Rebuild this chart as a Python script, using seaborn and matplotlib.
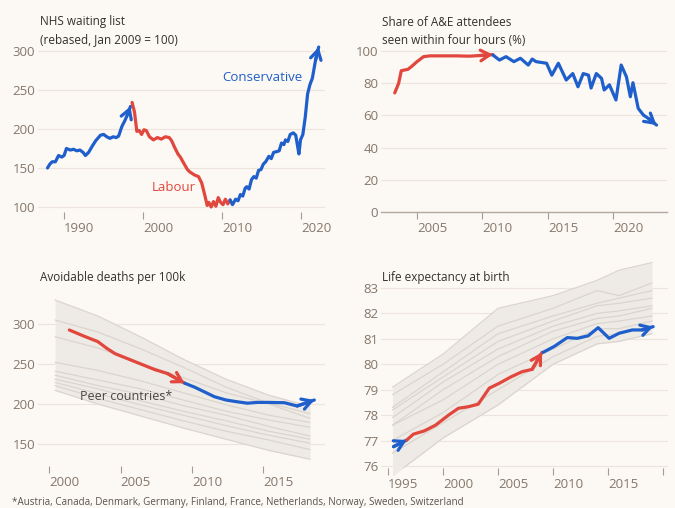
import numpy as np
import pandas as pd
import matplotlib
matplotlib.use("Agg")
import matplotlib.pyplot as plt
import seaborn as sns

# ---------------- data ----------------
# NHS waiting list (rebased, Jan 2009 = 100)
nhs_con1_year = [1987.9, 1988.2, 1988.5, 1988.9, 1989.3, 1989.7, 1990.0, 1990.3, 1990.8, 1991.2, 1991.6,
                 1992.0, 1992.4, 1992.7, 1993.1, 1993.5, 1994.0, 1994.6, 1995.0, 1995.4, 1995.8, 1996.2,
                 1996.6, 1996.9, 1997.3, 1997.7, 1998.0, 1998.4]
nhs_con1_val = [150, 155, 158, 158, 166, 164, 166, 175, 173, 174, 172,
                173, 170, 166, 170, 177, 185, 192, 193, 190, 188, 190,
                189, 191, 203, 211, 218, 229]
nhs_lab_year = [1998.6, 1998.9, 1999.2, 1999.5, 1999.8, 2000.1, 2000.4, 2000.8, 2001.3, 2001.8, 2002.3,
                2002.8, 2003.3, 2003.6, 2004.0, 2004.4, 2004.7, 2005.2, 2005.6, 2005.9, 2006.5, 2007.0,
                2007.4, 2007.8, 2008.1, 2008.3, 2008.6, 2008.9, 2009.2, 2009.5, 2009.8, 2010.1, 2010.4,
                2010.7, 2011.0]
nhs_lab_val = [234, 222, 197, 198, 193, 199, 198, 190, 186, 189, 187,
               190, 189, 185, 176, 168, 164, 155, 148, 145, 141, 139,
               131, 115, 102, 106, 100, 107, 101, 112, 106, 103, 110,
               104, 109]
nhs_con2_year = [2011.0, 2011.3, 2011.7, 2012.0, 2012.3, 2012.6, 2012.9, 2013.1, 2013.4, 2013.7, 2014.0,
                 2014.3, 2014.6, 2014.9, 2015.2, 2015.5, 2015.9, 2016.2, 2016.5, 2016.9, 2017.2, 2017.5,
                 2017.8, 2018.0, 2018.3, 2018.6, 2019.0, 2019.3, 2019.5, 2019.7, 2019.9, 2020.2, 2020.5,
                 2020.8, 2021.1, 2021.4, 2021.8, 2022.2]
nhs_con2_val = [109, 103, 110, 108, 116, 114, 124, 126, 123, 135, 139,
                137, 147, 148, 155, 158, 165, 162, 170, 171, 172, 182,
                180, 186, 184, 193, 195, 192, 180, 168, 186, 193, 215,
                245, 257, 265, 288, 305]

# A&E share seen within four hours (%)
ae_lab_year = [2003.3, 2003.6, 2003.8, 2004.3, 2004.6, 2005.0, 2005.5, 2006.0, 2007.0, 2008.0, 2009.0,
               2009.8, 2010.8]
ae_lab_val = [74, 80, 87.8, 88.6, 90.5, 93.4, 96.5, 97, 97, 97, 96.8, 97.2, 97.8]
ae_con_year = [2010.8, 2011.3, 2011.8, 2012.4, 2012.9, 2013.5, 2013.8, 2014.1, 2014.9, 2015.3, 2015.8,
               2016.4, 2016.9, 2017.3, 2017.7, 2018.1, 2018.3, 2018.7, 2019.1, 2019.3, 2019.7, 2020.2,
               2020.6, 2021.0, 2021.3, 2021.5, 2021.9, 2022.3, 2022.7, 2023.3]
ae_con_val = [97.5, 94.4, 96.5, 93.4, 95.5, 91.3, 95, 93.4, 92.4, 85, 92.4,
              82, 86, 77.8, 86, 85, 77, 86, 83, 75.8, 79, 69.6,
              91.3, 84, 71.6, 80.3, 64.4, 60.2, 58, 54]

# Avoidable deaths per 100k
ad_lab_year = [2001.4, 2002.4, 2003.4, 2004.0, 2004.6, 2005.3, 2006.0, 2006.7, 2007.4, 2008.3, 2009.5]
ad_lab_val = [292.5, 285, 278, 270, 263, 258, 253, 248, 243, 238, 226]
ad_con_year = [2009.5, 2010.2, 2010.9, 2011.6, 2012.4, 2013.1, 2013.9, 2014.6, 2015.3, 2016.5, 2017.4, 2018.6]
ad_con_val = [226, 221, 215, 209, 205, 203, 201, 202, 202, 201.6, 197.5, 205]
peer_ad_year = [2000.4, 2003.4, 2006.4, 2009.4, 2012.4, 2015.4, 2018.3]
peer_ad = [
    [330, 310, 284, 256, 231, 211, 197],
    [305, 290, 269, 246, 221, 201, 188],
    [284, 270, 251, 233, 214, 200, 182],
    [252, 242, 229, 214, 199, 186, 177],
    [241, 230, 219, 205, 191, 180, 171],
    [236, 223, 212, 198, 186, 172, 160],
    [231, 219, 204, 191, 179, 166, 156],
    [227, 213, 199, 186, 173, 161, 151],
    [223, 207, 193, 179, 166, 155, 143],
    [217, 200, 185, 170, 156, 142, 131],
]

# Life expectancy at birth
le_con1_year = [1995.5, 1996.7]
le_con1_val = [76.76, 77.02]
le_lab_year = [1996.7, 1997.3, 1998.3, 1999.3, 2000.5, 2001.4, 2002.3, 2003.2, 2004.2, 2005.1, 2006.2,
               2007.2, 2008.1, 2009.0]
le_lab_val = [77.02, 77.25, 77.38, 77.6, 78.0, 78.27, 78.33, 78.43, 79.06, 79.25, 79.51,
              79.71, 79.8, 80.47]
le_con2_year = [2009.1, 2010.1, 2011.3, 2012.2, 2013.2, 2014.1, 2015.1, 2016.0, 2017.2, 2018.1, 2019.1]
le_con2_val = [80.47, 80.7, 81.05, 81.02, 81.12, 81.44, 81.02, 81.22, 81.35, 81.35, 81.48]
peer_le_year = [1995.4, 2000.0, 2005.0, 2010.0, 2014.0, 2016.0, 2019.0]
peer_le = [
    [79.1, 80.4, 82.2, 82.7, 83.3, 83.7, 84.0],
    [78.8, 80.0, 81.5, 82.2, 82.9, 82.7, 83.2],
    [78.3, 79.7, 81.2, 81.9, 82.4, 82.6, 82.9],
    [78.2, 79.5, 80.9, 81.7, 82.3, 82.4, 82.6],
    [77.9, 79.3, 80.6, 81.5, 82.0, 82.1, 82.3],
    [77.6, 79.0, 80.3, 81.3, 81.8, 81.9, 82.2],
    [77.6, 78.6, 80.0, 81.0, 81.6, 81.7, 81.9],
    [77.0, 78.1, 79.6, 80.6, 81.4, 81.4, 81.7],
    [76.5, 77.7, 79.0, 80.3, 81.1, 81.2, 81.5],
    [75.6, 77.1, 78.4, 80.0, 80.8, 80.9, 81.2],
]

nhs_ticks = [1990, 2000, 2010, 2020]
ae_ticks = [2005, 2010, 2015, 2020]
ad_ticks = [2000, 2005, 2010, 2015]
le_ticks = [1995, 2000, 2005, 2010, 2015, 2020]
le_tick_labels = ["1995", "2000", "2005", "2010", "2015", ""]

# ---------------- style ----------------
BG = "#fcf8f4"
RED = "#e2473e"
BLUE = "#1f5fcc"
GRID = "#ebe5de"
TICKC = "#84776b"
TITLEC = "#33302e"
BAND = "#eeeae5"
PEERLINE = "#dcd5ce"

sns.set_theme(style="white")
plt.rcParams["font.family"] = ["Open Sans", "DejaVu Sans"]

fig = plt.figure(figsize=(6.75, 5.08), dpi=100, facecolor=BG)
W, H = 675.0, 508.0


def add_ax(left, top, right, bottom):
    return fig.add_axes([left / W, 1 - bottom / H, (right - left) / W, (bottom - top) / H])


ax1 = add_ax(38, 41.6, 325, 212)
ax2 = add_ax(381, 46.2, 667, 212)
ax3 = add_ax(38, 295.2, 325, 466.4)
ax4 = add_ax(381, 257.5, 668, 468)

LW = 2.3


def seg(ax, xs, ys, color, arrow=True):
    df = pd.DataFrame({"x": xs, "y": ys})
    sns.lineplot(data=df, x="x", y="y", ax=ax, color=color, lw=LW, sort=False,
                 solid_capstyle="round", solid_joinstyle="round", zorder=5)
    if arrow:
        ax.annotate("", xy=(xs[-1], ys[-1]), xytext=(xs[-2], ys[-2]),
                    arrowprops=dict(arrowstyle="->,head_length=0.55,head_width=0.32",
                                    color=color, lw=LW, shrinkA=0, shrinkB=0,
                                    mutation_scale=12), zorder=6)


def style(ax, xlim, ylim, yticks, xticks, xlabels=None, bottom_spine=False):
    ax.set_facecolor(BG)
    ax.set_xlim(*xlim)
    ax.set_ylim(*ylim)
    ax.set_yticks(yticks)
    ax.set_xticks(xticks)
    if xlabels is not None:
        ax.set_xticklabels(xlabels)
    else:
        ax.set_xticklabels([str(t) for t in xticks])
    for s in ax.spines.values():
        s.set_visible(False)
    if bottom_spine:
        ax.spines["bottom"].set_visible(True)
        ax.spines["bottom"].set_color("#b3a99f")
        ax.spines["bottom"].set_linewidth(1.0)
    ax.grid(axis="y", color=GRID, lw=0.8, zorder=0)
    ax.grid(axis="x", visible=False)
    ax.set_axisbelow(True)
    ax.tick_params(axis="x", direction="out", length=5, width=0.8, color="#a89c90",
                   labelsize=9.5, labelcolor=TICKC, pad=2, bottom=True)
    ax.tick_params(axis="y", length=0, labelsize=9.5, labelcolor=TICKC, pad=2)
    for lab in ax.get_xticklabels():
        lab.set_horizontalalignment("left")
    ax.set_xlabel("")
    ax.set_ylabel("")


# Panel 1: NHS waiting list
seg(ax1, nhs_con1_year, nhs_con1_val, BLUE, arrow=True)
seg(ax1, nhs_lab_year, nhs_lab_val, RED, arrow=False)
seg(ax1, nhs_con2_year, nhs_con2_val, BLUE, arrow=True)
style(ax1, (1986.7, 2023.0), (93.6, 312), [100, 150, 200, 250, 300], nhs_ticks)
ax1.text(2010.0, 266.5, "Conservative", color=BLUE, fontsize=9.5, ha="left", va="center")
ax1.text(2001.1, 125.5, "Labour", color=RED, fontsize=9.5, ha="left", va="center")

# Panel 2: A&E
seg(ax2, ae_lab_year, ae_lab_val, RED, arrow=True)
seg(ax2, ae_con_year, ae_con_val, BLUE, arrow=True)
style(ax2, (2002.25, 2024.1), (0, 103), [0, 20, 40, 60, 80, 100], ae_ticks, bottom_spine=True)

# Panel 3: Avoidable deaths
peer_ad_arr = np.array(peer_ad, dtype=float)
ax3.fill_between(peer_ad_year, peer_ad_arr.min(axis=0), peer_ad_arr.max(axis=0),
                 color=BAND, lw=0, zorder=1)
for row in peer_ad:
    sns.lineplot(x=peer_ad_year, y=row, ax=ax3, color=PEERLINE, lw=0.9, zorder=2)
seg(ax3, ad_lab_year, ad_lab_val, RED, arrow=True)
seg(ax3, ad_con_year, ad_con_val, BLUE, arrow=True)
style(ax3, (1999.2, 2019.35), (122, 336), [150, 200, 250, 300], ad_ticks)
ax3.text(2002.15, 209, "Peer countries*", color="#4a4541", fontsize=9, ha="left", va="center", zorder=7)

# Panel 4: Life expectancy
peer_le_arr = np.array(peer_le, dtype=float)
band4 = ax4.fill_between(peer_le_year, peer_le_arr.min(axis=0), peer_le_arr.max(axis=0),
                         color=BAND, lw=0, zorder=1)
band4.set_clip_on(False)
for row in peer_le:
    sns.lineplot(x=peer_le_year, y=row, ax=ax4, color=PEERLINE, lw=0.9, zorder=2)
seg(ax4, le_con1_year, le_con1_val, BLUE, arrow=True)
seg(ax4, le_lab_year, le_lab_val, RED, arrow=True)
seg(ax4, le_con2_year, le_con2_val, BLUE, arrow=True)
style(ax4, (1994.36, 2020.45), (75.92, 84.2), [76, 77, 78, 79, 80, 81, 82, 83], le_ticks,
      xlabels=le_tick_labels)

# Titles
tkw = dict(fontsize=8.5, color=TITLEC, ha="left", va="center")
fig.text(40 / W, 1 - 22 / H, "NHS waiting list", **tkw)
fig.text(40 / W, 1 - 40 / H, "(rebased, Jan 2009 = 100)", **tkw)
fig.text(382 / W, 1 - 22 / H, "Share of A&E attendees", **tkw)
fig.text(382 / W, 1 - 40 / H, "seen within four hours (%)", **tkw)
fig.text(40 / W, 1 - 277 / H, "Avoidable deaths per 100k", **tkw)
fig.text(382 / W, 1 - 277 / H, "Life expectancy at birth", **tkw)

fig.text(12 / W, 1 - 503 / H,
         "*Austria, Canada, Denmark, Germany, Finland, France, Netherlands, Norway, Sweden, Switzerland",
         fontsize=7.1, color="#5a5550", ha="left", va="center")

fig.savefig("out.png", dpi=100, facecolor=BG)
